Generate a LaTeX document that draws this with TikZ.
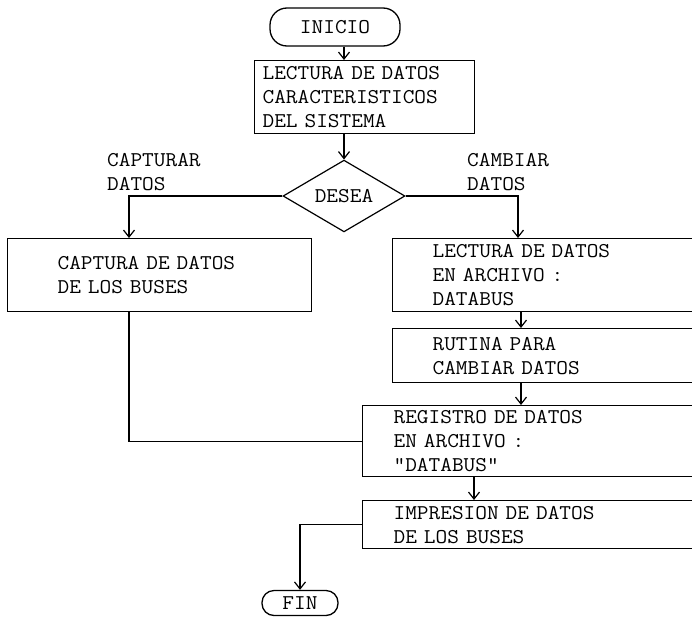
\documentclass[tikz,border=0pt]{standalone}
\usepackage{fontspec}
\setmonofont{Latin Modern Mono}[FakeStretch=1.08]
\usetikzlibrary{arrows.meta,shapes.geometric,calc}

\begin{document}
\begin{tikzpicture}[x=1pt,y=-1pt,
      >={Straight Barb[length=7pt,width=11pt]},
      every node/.style={font=\ttfamily\fontsize{21}{24}\selectfont},
      term/.style={draw,rounded corners=17pt,line width=1.3pt,inner sep=0pt},
      proc/.style={draw,line width=1.2pt,anchor=north west,align=left,inner ysep=0pt},
      dec/.style={draw,diamond,line width=1.2pt,minimum width=122pt,minimum height=47pt,inner sep=0pt},
      flow/.style={->,line width=1.2pt},
      lbl/.style={anchor=west,align=left,inner sep=0pt},
    ]
    \useasboundingbox (0,0) rectangle (692,621);
    \node[term,minimum width=130pt,minimum height=38pt] (ini) at (335,27) {INICIO};
    \node[proc,minimum width=220pt,minimum height=73pt,text width=204pt,inner xsep=8pt] (sis) at (254,60)
      {LECTURA DE DATOS\\CARACTERISTICOS\\DEL SISTEMA};
    \node[dec] (des) at (344,196) {DESEA};
    \node[lbl] (lcap) at (107,172) {CAPTURAR\\DATOS};
    \node[lbl] (lcam) at (467,172) {CAMBIAR\\DATOS};
    \node[proc,minimum width=304pt,minimum height=73pt,text width=204pt,inner xsep=50pt] (cap) at (7,238)
      {CAPTURA DE DATOS\\DE LOS BUSES};
    \node[proc,minimum width=310pt,minimum height=73pt,text width=230pt,inner xsep=40pt] (lec) at (392,238)
      {LECTURA DE DATOS\\EN ARCHIVO :\\DATABUS};
    \node[proc,minimum width=310pt,minimum height=54pt,text width=230pt,inner xsep=40pt] (rut) at (392,328)
      {RUTINA PARA\\CAMBIAR DATOS};
    \node[proc,minimum width=340pt,minimum height=71pt,text width=278pt,inner xsep=31pt] (reg) at (362,405)
      {REGISTRO DE DATOS\\EN ARCHIVO :\\"DATABUS"};
    \node[proc,minimum width=340pt,minimum height=48pt,text width=278pt,inner xsep=31pt] (imp) at (362,500)
      {IMPRESION DE DATOS\\DE LOS BUSES};
    \node[term,rounded corners=12pt,minimum width=76pt,minimum height=25pt] (fin) at (300,603) {FIN};
    % vertical guide lines of the branches
    \coordinate (lx) at (129,0);
    \coordinate (rx) at (518,0);
    \coordinate (mx) at (521,0);
    \coordinate (ix) at (474,0);
    \draw[flow] (ini.south -| des.north) -- (sis.north -| des.north);
    \draw[flow] (sis.south -| des.north) -- (des.north);
    \draw[flow] (des.west) -| (cap.north -| lx);
    \draw[flow] (des.east) -| (lec.north -| rx);
    \draw[flow] (lec.south -| mx) -- (rut.north -| mx);
    \draw[flow] (rut.south -| mx) -- (reg.north -| mx);
    \draw[flow] (reg.south -| ix) -- (imp.north -| ix);
    \draw[line width=1.2pt] (cap.south -| lx) |- (reg.west);
    \draw[flow] (imp.west) -| (fin.north);
  \end{tikzpicture}
\end{document}
